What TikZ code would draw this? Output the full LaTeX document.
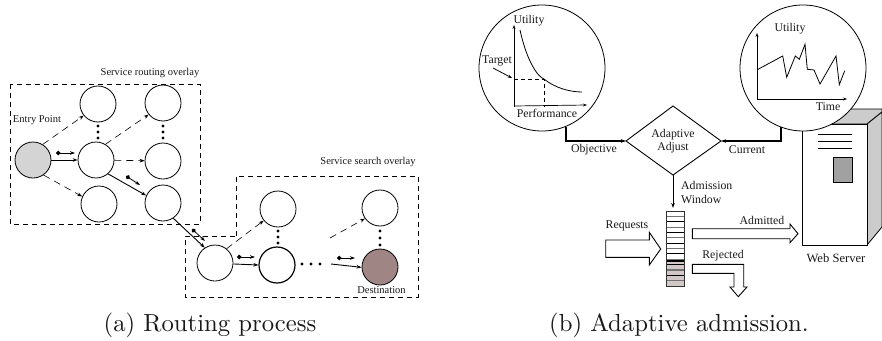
\documentclass[tikz,border=0pt]{standalone}
\usepackage{fontspec}
\newfontfamily\libf{Liberation Serif}
\usetikzlibrary{arrows.meta}
\definecolor{destcol}{HTML}{A08585}
\definecolor{rowcol}{HTML}{D2C8C8}
\tikzset{
 x=1pt,y=-1pt,
 vert/.style={circle,draw=black,line width=0.8pt,minimum size=36pt,inner sep=0pt,fill=white},
 lab/.style={font=\libf\fontsize{10.5}{12}\selectfont,inner sep=0pt,text=black!90},
 labb/.style={font=\libf\fontsize{11.8}{13.6}\selectfont,inner sep=0pt,text=black!90},
 captext/.style={font=\normalsize,scale=2.47,inner sep=0pt,text=black!90},
 ovbox/.style={dashed,dash pattern=on 5pt off 4pt,line width=0.8pt},
 dashar/.style={dashed,dash pattern=on 7pt off 5pt,line width=0.6pt,-{Stealth[length=5pt,width=3.5pt]}},
 solar/.style={line width=0.9pt,-{Stealth[length=5pt,width=3.5pt]}},
 pointer/.style={line width=0.8pt,{Circle[length=4.5pt]}-{Stealth[length=5pt,width=3.5pt]}},
 lens/.style={circle,draw=black,line width=0.8pt,fill=white,minimum size=126pt,inner sep=0pt},
 chartaxis/.style={line width=0.7pt,-{Stealth[length=4pt,width=3pt]}},
 bigar/.style={draw=black,line width=0.9pt,fill=white},
 wire/.style={line width=1.3pt,-{Stealth[length=5pt,width=3.5pt]}},
}
\begin{document}
\begin{tikzpicture}
\useasboundingbox (0,0) rectangle (882,340);
% left overlays
\draw[ovbox] (10,84) rectangle (200,224);
\draw[ovbox] (236,236) -- (236,176) -- (418,176) -- (418,297) -- (185,297) -- (185,236) -- cycle;
\node[lab] at (150,73) {Service routing overlay};
\node[lab] at (368,162) {Service search overlay};
\node[lab] at (37,120) {Entry Point};
\node[vert,fill=black!17] (e) at (33,160) {};
\node[vert] (n1) at (98,104) {};
\node[vert] (n2) at (163,103) {};
\node[vert] (n3) at (96,160) {};
\node[vert] (n4) at (163,161) {};
\node[vert] (n5) at (99,204) {};
\node[vert] (n6) at (163,203) {};
\node[vert] (m1) at (215,263) {};
\node[vert,line width=1.2pt] (m2) at (277,265) {};
\node[vert] (m3) at (278,209) {};
\node[vert] (m4) at (380,208) {};
\node[vert,fill=destcol] (d) at (380,267) {};
\node[lab] at (381.5,290) {Destination};
% edges
\draw[dashar] (e.58) -- (n1.219);
\draw[solar] (e) -- (n3);
\draw[dashar] (e.-55) -- (n5.156);
\draw[dashar] (n3.59) -- (n2.219);
\draw[dashar] (n3) -- (n4);
\draw[solar] (n3.-49) -- (n6.156);
\draw[solar] (n6.-56) -- (m1.124);
\draw[dashar] (m1.51) -- (m3.219);
\draw[solar] (m1.-3) -- (m2.west);
\coordinate (f1) at (330,238);
\coordinate (f2) at (331,264);
\draw[dashar] (f1) -- (m4.215);
\draw[solar] (f2) -- (d.181);
% pointers
\coordinate (p1a) at (56,153); \coordinate (p1b) at (75,153);
\coordinate (p2a) at (126,176); \coordinate (p2b) at (140,185);
\coordinate (p3a) at (192,229); \coordinate (p3b) at (205,241);
\coordinate (p4a) at (237,257); \coordinate (p4b) at (255,257);
\coordinate (p5a) at (337,258); \coordinate (p5b) at (355,258);
\draw[pointer] (p1a) -- (p1b);
\draw[pointer] (p2a) -- (p2b);
\draw[pointer] (p3a) -- (p3b);
\draw[pointer] (p4a) -- (p4b);
\draw[pointer] (p5a) -- (p5b);
% dots
\foreach \px/\py in {98/126,98/132,98/138,163/126,163/132,163/138,278/231,278/237,278/243,380/231,380/238,380/245,302/264,311/264,320/264}
  \fill (\px,\py) circle (1.7pt);
% server
\filldraw[fill=black!20,draw=black,line width=0.8pt] (802,124) -- (839,109) -- (882,109) -- (882,112) -- (867,124) -- cycle;
\filldraw[fill=black!20,draw=black,line width=0.8pt] (867,124) -- (882,112) -- (882,227) -- (867,245) -- cycle;
\draw[line width=0.9pt,fill=white] (802,124) rectangle (867,245);
\draw[line width=0.8pt] (818,134) -- (852,134) (818,141) -- (852,141) (818,148) -- (852,148);
\draw[line width=0.8pt,fill=black!37] (833,157) rectangle (852,182);
\node[labb,font=\libf\fontsize{12.6}{14}\selectfont] at (836,258) {Web Server};
% lenses and wires
\node[lens] (l1) at (542,68) {};
\node[lens] (l2) at (803,68) {};
\draw[line width=0.9pt] (673,106) -- (721,141) -- (673,175) -- (626,141) -- cycle;
\coordinate (dl) at (626,141); \coordinate (dr) at (721,141); \coordinate (db) at (673,175);
\coordinate (w1) at (566,127); \coordinate (w2) at (781,127);
\draw[wire] (w1) |- (dl);
\draw[wire] (w2) |- (dr);
\node[labb,align=center] at (673,141) {Adaptive\\Adjust};
\node[labb] at (594,150) {Objective};
\node[labb] at (747,150) {Current};
% left chart
\draw[chartaxis] (514,107) -- (514,25);
\draw[chartaxis] (514,106) -- (587,105);
\draw[line width=0.8pt] (520,30) .. controls (527,62) and (538,77) .. (544,79) .. controls (555,88) and (570,92) .. (582,92);
\draw[dashed,dash pattern=on 4pt off 3pt,line width=0.8pt] (514,79) -- (544,79) -- (544,107);
\coordinate (ta) at (493,68); \coordinate (tb) at (512,78);
\draw[chartaxis,line width=0.8pt] (ta) -- (tb);
\node[labb] at (529,21) {Utility};
\node[labb] at (497,61) {Target};
\node[labb] at (547,113) {Performance};
% right chart
\draw[chartaxis] (757,99) -- (757,33);
\draw[chartaxis] (757,99) -- (847,99);
\draw[line width=0.8pt] (758,69.3) -- (782.7,56) -- (786.7,77.3) -- (795.3,56) -- (799.3,59.3) -- (805,44.3) -- (807.3,69.3) -- (814,70) -- (820,84) -- (836,56) -- (839.3,84.7) -- (844.7,70.7);
\node[labb] at (790,29) {Utility};
\node[labb] at (828,107) {Time};
% queue
\fill[rowcol] (666,261) rectangle (684,286);
\foreach \i in {1,3,...,13}
  \draw[black!55,line width=1.1pt] (666,211+\i*5.36) -- (684,211+\i*5.36);
\foreach \i in {2,4,...,12}
  \draw[black,line width=0.8pt] (666,211+\i*5.36) -- (684,211+\i*5.36);
\draw[line width=1.3pt] (666,261) -- (684,261);
\draw[line width=1pt,draw=black!80] (666,211) rectangle (684,286);
\coordinate (qtop) at (673,208);
\draw[solar] (db) -- (qtop);
\node[labb,anchor=west,align=left] at (681,192.5) {Admission\\Window};
% big arrows
\draw[bigar] (605.7,240) -- (649.3,240) -- (649.3,232.3) -- (660.7,249) -- (649.3,265) -- (649.3,257.3) -- (605.7,257.3) -- cycle;
\draw[bigar] (692.3,228.7) -- (790,228.7) -- (790,224) -- (798,233.7) -- (790,242.7) -- (790,238.7) -- (692.3,238.7) -- cycle;
\draw[bigar] (692.3,264.3) -- (743.7,264.3) -- (743.7,287) -- (747,287) -- (738.3,296.7) -- (730,287) -- (734,287) -- (734,273.3) -- (692.3,273.3) -- cycle;
\node[labb] at (627,226) {Requests};
\node[labb] at (762,220) {Admitted};
\node[labb] at (723,256) {Rejected};
% captions
\node[captext] at (210,325) {(a) Routing process};
\node[captext] at (679,325) {(b) Adaptive admission.};
\end{tikzpicture}
\end{document}
